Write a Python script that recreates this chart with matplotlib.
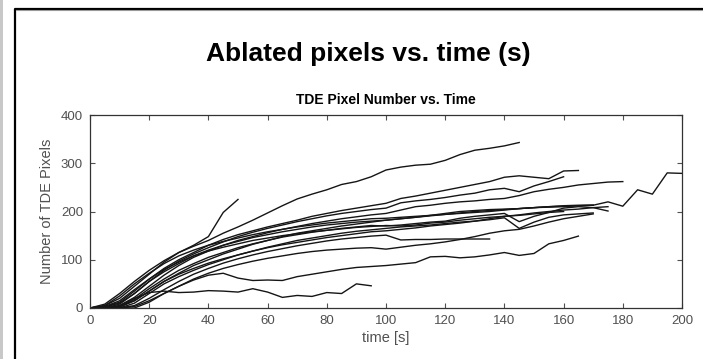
import numpy as np
import matplotlib
matplotlib.use("agg")
import matplotlib.pyplot as plt
from matplotlib.lines import Line2D
from matplotlib.patches import Rectangle

plt.rcParams["font.family"] = ["Liberation Sans", "DejaVu Sans"]

# sample times, one every 5 s
t = list(range(0, 205, 5))

# pixel counts of each ablation run, sampled at t[0], t[1], ...
run_a = [0, 8, 30, 55, 78, 98, 115, 130, 148, 198, 225]
run_b = [0, 5, 20, 45, 70, 95, 115, 128, 140, 155, 168, 182, 197, 212, 226, 236, 245, 256, 262, 272,
         286, 292, 296, 298, 306, 318, 327, 331, 336, 343]
run_c = [0, 3, 12, 35, 60, 82, 100, 115, 130, 142, 152, 160, 168, 175, 182, 190, 196, 202, 207, 212,
         217, 227, 232, 238, 244, 250, 256, 262, 271, 274, 271, 268, 284, 285]
run_d = [0, 2, 10, 30, 55, 78, 97, 112, 125, 137, 148, 157, 165, 172, 179, 185, 191, 196, 200, 204,
         207, 218, 222, 225, 229, 234, 238, 245, 248, 241, 253, 262, 272]
run_e = [0, 0, 5, 22, 45, 68, 88, 105, 118, 130, 140, 148, 156, 163, 169, 175, 180, 185, 189, 193,
         196, 203, 210, 213, 217, 220, 222, 225, 227, 233, 241, 246, 250, 255, 258, 261, 262]
run_f = [0, 0, 3, 15, 35, 55, 72, 88, 100, 112, 122, 132, 140, 148, 155, 160, 165, 170, 174, 178,
         182, 185, 188, 191, 194, 197, 200, 202, 204, 206, 208, 210, 212, 213, 213, 220, 211, 245, 236, 280, 279]
run_g = [0, 5, 25, 50, 72, 92, 108, 120, 130, 138, 145, 152, 158, 163, 168, 172, 176, 179, 182, 185,
         186, 188, 190, 192, 194, 196, 198, 200, 203, 206, 208, 210, 211, 212, 213]
run_h = [0, 0, 8, 30, 55, 75, 92, 108, 120, 130, 138, 146, 152, 158, 163, 168, 172, 175, 178, 180,
         182, 185, 188, 192, 196, 200, 202, 204, 205, 206, 208, 209, 210, 212, 213]
run_i = [0, 0, 2, 18, 40, 60, 78, 92, 105, 115, 125, 133, 140, 147, 152, 157, 161, 165, 168, 171,
         170, 172, 175, 178, 180, 186, 190, 193, 196, 179, 190, 198, 207, 210, 208, 201]
run_j = [0, 0, 0, 10, 30, 50, 65, 78, 90, 100, 110, 118, 126, 133, 140, 145, 150, 155, 159, 162,
         165, 168, 170, 172, 175, 178, 180, 183, 187, 165, 178, 188, 193, 195, 197]
run_k = [0, 0, 0, 5, 20, 38, 55, 70, 82, 93, 102, 110, 117, 123, 129, 134, 139, 143, 146, 149,
         151, 141, 142, 142, 143, 143, 143, 143]
run_l = [0, 0, 0, 0, 12, 30, 45, 60, 72, 82, 90, 97, 103, 108, 113, 117, 120, 122, 124, 125,
         122, 126, 130, 133, 137, 142, 148, 155, 160, 163, 170, 178, 185, 190, 195]
run_m = [0, 0, 0, 3, 15, 30, 45, 58, 68, 72, 62, 57, 58, 57, 65, 70, 75, 80, 84, 86,
         88, 91, 94, 106, 107, 104, 106, 110, 115, 109, 113, 133, 140, 149]
run_n = [0, 0, 5, 20, 32, 35, 32, 33, 36, 35, 33, 40, 33, 22, 26, 24, 32, 30, 50, 46]
run_o = [0, 3, 15, 38, 60, 80, 95, 108, 118, 126, 133, 140, 145, 150, 154, 158, 161, 164, 167, 169,
         171, 170, 172, 176, 178, 182, 185, 188, 190, 192, 195, 198, 200]
run_p = [0, 0, 2, 15, 35, 55, 70, 82, 93, 102, 110, 118, 125, 131, 136, 141, 146, 150, 154, 158,
         160, 163, 166, 170, 173, 176, 180, 185, 190, 193, 197, 200, 203, 205, 208, 210]

runs = [run_a, run_b, run_c, run_d, run_e, run_f, run_g, run_h,
        run_i, run_j, run_k, run_l, run_m, run_n, run_o, run_p]

fig = plt.figure(figsize=(7.03, 3.59), dpi=100)

# slide frame around the figure
fig.add_artist(Rectangle((0, 0), 3 / 703, 1, transform=fig.transFigure,
                         facecolor="#c8c8c8", edgecolor="none"))
fig.add_artist(Line2D([14.5 / 703, 14.5 / 703, 1], [0, 1 - 8.5 / 359, 1 - 8.5 / 359],
                      transform=fig.transFigure, color="black", lw=1.6))
fig.add_artist(Line2D([15.5 / 703, 1], [1 - 10 / 359, 1 - 10 / 359],
                      transform=fig.transFigure, color="#9a9a9a", lw=0.8))

fig.text(0.524, 1 - 60.5 / 359, "Ablated pixels vs. time (s)", ha="center", va="baseline",
         fontsize=19, fontweight="bold")

ax = fig.add_axes([90 / 703, 51 / 359, 592 / 703, 193 / 359])
for run in runs:
    ax.plot(t[:len(run)], run, color="#151515", lw=1.0)

ax.set_xlim(0, 200)
ax.set_ylim(0, 400)
ax.set_xticks(range(0, 201, 20))
ax.set_yticks(range(0, 401, 100))
ax.tick_params(direction="in", top=True, right=True, length=3.5, width=0.8,
               colors="#505050", labelsize=9.5, pad=5)
for s in ax.spines.values():
    s.set_color("#333333")
    s.set_linewidth(0.9)

ax.set_title("TDE Pixel Number vs. Time", fontsize=10, fontweight="bold", pad=8)
ax.set_xlabel("time [s]", fontsize=10.5, color="#505050", labelpad=3)
ax.set_ylabel("Number of TDE Pixels", fontsize=10.5, color="#505050", labelpad=5)

fig.savefig("out.png", dpi=100)
